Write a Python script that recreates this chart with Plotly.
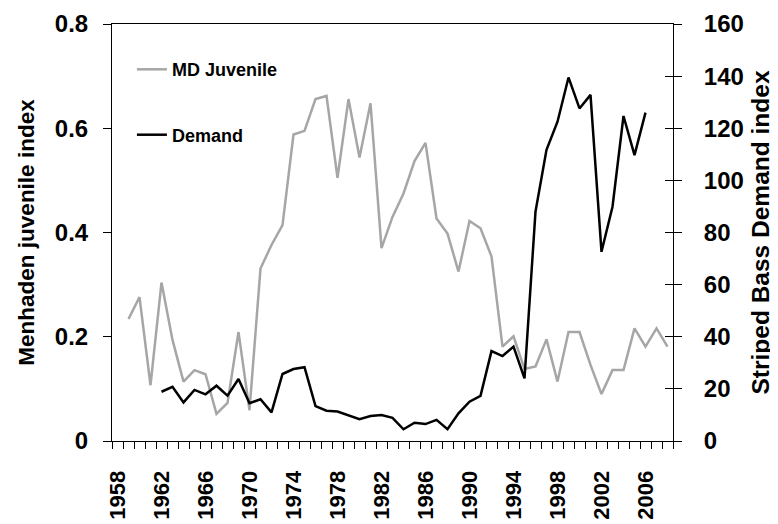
import plotly.graph_objects as go

years = [1958, 1959, 1960, 1961, 1962, 1963, 1964, 1965, 1966, 1967,
         1968, 1969, 1970, 1971, 1972, 1973, 1974, 1975, 1976, 1977,
         1978, 1979, 1980, 1981, 1982, 1983, 1984, 1985, 1986, 1987,
         1988, 1989, 1990, 1991, 1992, 1993, 1994, 1995, 1996, 1997,
         1998, 1999, 2000, 2001, 2002, 2003, 2004, 2005, 2006, 2007, 2008]

md_juvenile = [None, 0.234, 0.276, 0.107, 0.304, 0.194, 0.114, 0.136, 0.128, 0.052,
               0.073, 0.209, 0.059, 0.331, 0.376, 0.414, 0.588, 0.595, 0.656, 0.662,
               0.505, 0.656, 0.544, 0.648, 0.370, 0.430, 0.475, 0.537, 0.572, 0.427,
               0.398, 0.325, 0.422, 0.408, 0.354, 0.181, 0.201, 0.138, 0.143, 0.195,
               0.114, 0.209, 0.209, 0.146, 0.090, 0.136, 0.136, 0.216, 0.181, 0.216, 0.181]

demand = [None, None, None, None, 18.9, 20.8, 14.8, 19.6, 17.9, 21.2,
          17.4, 23.8, 14.5, 16.0, 11.0, 25.7, 27.6, 28.3, 13.4, 11.6,
          11.3, 10.0, 8.4, 9.6, 10.0, 8.9, 4.5, 7.0, 6.5, 8.1,
          4.5, 10.6, 15.1, 17.3, 34.5, 32.6, 36.2, 24.0, 88.0, 111.7,
          122.5, 139.5, 127.6, 132.8, 72.6, 89.9, 124.7, 109.7, 126.0, None, None]

tick_years = [1958, 1962, 1966, 1970, 1974, 1978, 1982, 1986, 1990, 1994, 1998, 2002, 2006]
tick_labels = [str(y) for y in tick_years]

left_ticks = [0, 0.2, 0.4, 0.6, 0.8]
left_labels = ["0", "0.2", "0.4", "0.6", "0.8"]
right_ticks = [0, 20, 40, 60, 80, 100, 120, 140, 160]

FONT = "Liberation Sans, Arial, sans-serif"

fig = go.Figure()
fig.add_trace(go.Scatter(x=years, y=md_juvenile, name="MD Juvenile", mode="lines",
                         line=dict(color="#A6A6A6", width=2.5), legendgroup="a"))
fig.add_trace(go.Scatter(x=years, y=demand, name="Demand", mode="lines",
                         line=dict(color="#000000", width=2.5), yaxis="y2", legendgroup="b"))
# invisible helper so the inner right-hand tick marks get drawn
fig.add_trace(go.Scatter(x=[None], y=[None], yaxis="y3", showlegend=False, hoverinfo="skip"))

fig.update_layout(
    width=770, height=516,
    margin=dict(l=104, r=105, t=16, b=83, autoexpand=False),
    paper_bgcolor="white", plot_bgcolor="white",
    font=dict(family=FONT, color="black"),
    showlegend=True,
    legend=dict(x=0.0355, y=0.935, xanchor="left", yanchor="top",
                font=dict(size=18, weight="bold", family=FONT),
                tracegroupgap=39, bgcolor="rgba(0,0,0,0)", traceorder="grouped"),
    xaxis=dict(range=[1957.5, 2008.5], showgrid=False, zeroline=False, automargin=False,
               showline=True, linecolor="black", linewidth=1, mirror=True,
               tickmode="array", tickvals=tick_years, ticktext=tick_labels,
               ticks="", tickangle=-90, ticklabelstandoff=20,
               tickfont=dict(size=22, weight="bold", family=FONT),
               minor=dict(tickmode="linear", tick0=1957.5, dtick=1, ticks="outside",
                          ticklen=7, tickcolor="black", showgrid=False)),
    yaxis=dict(range=[0, 0.8], tickmode="array", tickvals=left_ticks, ticktext=left_labels,
               showgrid=False, zeroline=False, automargin=False,
               showline=True, linecolor="black", linewidth=1,
               ticks="outside", ticklen=8, tickcolor="black", ticklabelstandoff=10,
               tickfont=dict(size=24, weight="bold", family=FONT),
               title=dict(text="Menhaden juvenile index", standoff=13,
                          font=dict(size=22.5, weight="bold", family=FONT))),
    yaxis2=dict(range=[0, 160], tickmode="array", tickvals=right_ticks,
                overlaying="y", side="right", automargin=False,
                showgrid=False, zeroline=False,
                showline=True, linecolor="black", linewidth=1,
                ticks="outside", ticklen=8, tickcolor="black", ticklabelstandoff=17,
                tickfont=dict(size=24, weight="bold", family=FONT),
                title=dict(text="Striped Bass Demand index", standoff=9,
                           font=dict(size=24.5, weight="bold", family=FONT))),
    yaxis3=dict(range=[0, 160], tickmode="array", tickvals=right_ticks,
                overlaying="y", side="right", automargin=False,
                showgrid=False, zeroline=False, showline=False,
                ticks="inside", ticklen=8, tickcolor="black", showticklabels=False),
)

fig.write_html("out.html")
